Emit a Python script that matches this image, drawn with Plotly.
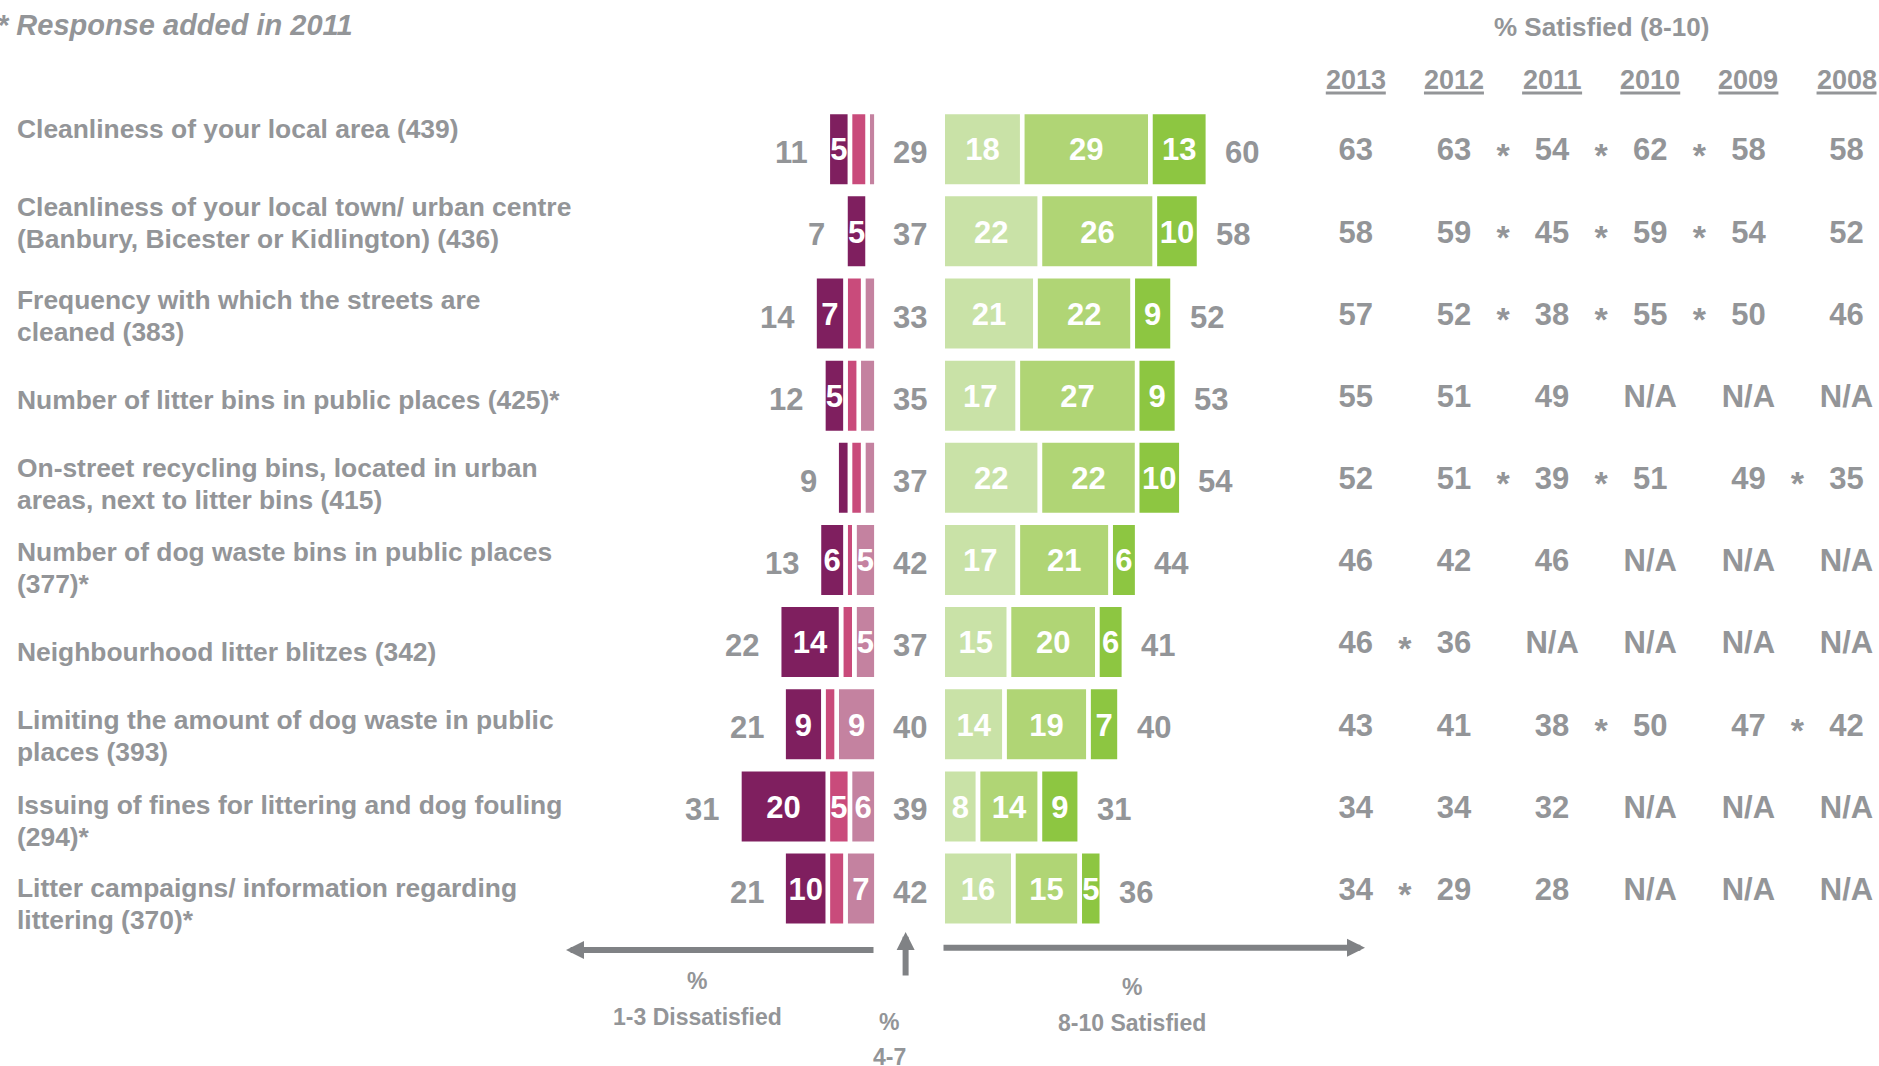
import plotly.graph_objects as go

# ---------------------------------------------------------------- data
questions = [
    "Cleanliness of your local area (439)",
    "Cleanliness of your local town/ urban centre\n(Banbury, Bicester or Kidlington) (436)",
    "Frequency with which the streets are\ncleaned (383)",
    "Number of litter bins in public places (425)*",
    "On-street recycling bins, located in urban\nareas, next to litter bins (415)",
    "Number of dog waste bins in public places\n(377)*",
    "Neighbourhood litter blitzes (342)",
    "Limiting the amount of dog waste in public\nplaces (393)",
    "Issuing of fines for littering and dog fouling\n(294)*",
    "Litter campaigns/ information regarding\nlittering (370)*",
]

# dissatisfied scores (1 = very dissatisfied ... 3)
score_1 = [5, 5, 7, 5, 3, 6, 14, 9, 20, 10]
score_2 = [4, 1, 4, 3, 3, 2, 3, 3, 5, 4]
score_3 = [2, 1, 3, 4, 3, 5, 5, 9, 6, 7]
# neutral 4-7
score_4_7 = [29, 37, 33, 35, 37, 42, 37, 40, 39, 42]
# satisfied scores 8 ... 10
score_8 = [18, 22, 21, 17, 22, 17, 15, 14, 8, 16]
score_9 = [29, 26, 22, 27, 22, 21, 20, 19, 14, 15]
score_10 = [13, 10, 9, 9, 10, 6, 6, 7, 9, 5]

years = ["2013", "2012", "2011", "2010", "2009", "2008"]
satisfied_by_year = [
    [63, 63, 54, 62, 58, 58],
    [58, 59, 45, 59, 54, 52],
    [57, 52, 38, 55, 50, 46],
    [55, 51, 49, None, None, None],
    [52, 51, 39, 51, 49, 35],
    [46, 42, 46, None, None, None],
    [46, 36, None, None, None, None],
    [43, 41, 38, 50, 47, 42],
    [34, 34, 32, None, None, None],
    [34, 29, 28, None, None, None],
]
# significant change markers: (row, gap between years[g] and years[g+1])
sig_changes = [
    (0, 1), (0, 2), (0, 3),
    (1, 1), (1, 2), (1, 3),
    (2, 1), (2, 2), (2, 3),
    (4, 1), (4, 2), (4, 4),
    (6, 0),
    (7, 2), (7, 4),
    (9, 0),
]

# ---------------------------------------------------------------- layout constants
W, H = 1879, 1066
FONT = "Liberation Sans, Arial, Helvetica, sans-serif"
GREY = "#939598"
ARROW_GREY = "#808285"
C1, C2, C3 = "#7f1f5f", "#c94b7b", "#c482a0"
C8, C9, C10 = "#c9e2a7", "#b0d575", "#8dc641"

PX_PER_PCT = 4.42        # horizontal scale of the bars
DISS_ZERO_PX = 876.4     # where dissatisfied bars start (growing left)
GAP_PCT = 15             # space kept for the 4-7 column
ROW0_PX = 149.2
ROW_STEP_PX = 82.15
BAR_PX = 74.6
COL0_PX = 1355.8
COL_STEP_PX = 98.15
LABEL_FIRST_LINE_PX = [129, 207, 300, 400, 468, 552, 652, 720, 805, 888]
LABEL_LINE_STEP_PX = 31.7
NUM_DROP_PX = 3.5        # digits sit slightly below the bar centre line
STAR_DROP_PX = 9         # asterisks drawn level with the digits

n = len(questions)
rows = list(range(n))


def px_x(p):
    return p / W


def px_y(p):
    return 1 - p / H


fig = go.Figure()

# ---------------------------------------------------------------- bars
def add_segments(values, bases, color):
    fig.add_trace(go.Bar(
        orientation="h", y=rows, x=values, base=bases,
        width=BAR_PX / ROW_STEP_PX,
        marker=dict(color=color, line=dict(color="white", width=4.6)),
        hoverinfo="skip",
    ))


diss_total = [a + b + c for a, b, c in zip(score_1, score_2, score_3)]
sat_total = [a + b + c for a, b, c in zip(score_8, score_9, score_10)]

b3 = [-v for v in score_3]
b2 = [-(v3 + v2) for v3, v2 in zip(score_3, score_2)]
b1 = [-t for t in diss_total]
b8 = [GAP_PCT] * n
b9 = [GAP_PCT + v for v in score_8]
b10 = [GAP_PCT + a + b for a, b in zip(score_8, score_9)]

segments = [
    (score_3, b3, C3), (score_2, b2, C2), (score_1, b1, C1),
    (score_8, b8, C8), (score_9, b9, C9), (score_10, b10, C10),
]
for vals, bases, col in segments:
    add_segments(vals, bases, col)

num_drop = NUM_DROP_PX / ROW_STEP_PX

# value labels inside segments (only where there is room)
lx, ly, lt = [], [], []
for vals, bases, _ in segments:
    for i in rows:
        if vals[i] >= 5:
            lx.append(bases[i] + vals[i] / 2)
            ly.append(i + num_drop)
            lt.append(str(vals[i]))
fig.add_trace(go.Scatter(
    x=lx, y=ly, text=lt, mode="text", hoverinfo="skip",
    textfont=dict(family=FONT, size=31, color="white", weight="bold"),
))

# ---------------------------------------------------------------- trend table
tx, ty, tt = [], [], []
for i, vals in enumerate(satisfied_by_year):
    for j, v in enumerate(vals):
        tx.append(j)
        ty.append(i + num_drop)
        tt.append("N/A" if v is None else str(v))
fig.add_trace(go.Scatter(
    x=tx, y=ty, text=tt, mode="text", xaxis="x2", hoverinfo="skip",
    textfont=dict(family=FONT, size=31, color=GREY, weight="bold"),
))
fig.add_trace(go.Scatter(
    x=[g + 0.5 for _, g in sig_changes],
    y=[r + STAR_DROP_PX / ROW_STEP_PX for r, _ in sig_changes],
    text=["*"] * len(sig_changes), mode="text", xaxis="x2", hoverinfo="skip",
    textfont=dict(family=FONT, size=34, color=GREY, weight="bold"),
))

annotations = []
shapes = []


def note(text, x, y, size, xanchor="center", xref="paper", yref="paper",
         italic=False, xshift=0, yshift=0, color=GREY):
    annotations.append(dict(
        text=text, x=x, y=y, xref=xref, yref=yref, showarrow=False,
        xanchor=xanchor, yanchor="middle", xshift=xshift, yshift=yshift,
        font=dict(family=FONT, size=size, color=color, weight="bold",
                  style="italic" if italic else "normal"),
    ))


# question labels
for i, q in enumerate(questions):
    for k, line in enumerate(q.split("\n")):
        note(line, px_x(15), px_y(LABEL_FIRST_LINE_PX[i] + k * LABEL_LINE_STEP_PX),
             26.4, xanchor="left")

# totals either side and the neutral share in between
for i in rows:
    note(str(diss_total[i]), -diss_total[i], i, 31, xanchor="right",
         xref="x", yref="y", xshift=-18, yshift=-NUM_DROP_PX)
    note(str(sat_total[i]), GAP_PCT + sat_total[i], i, 31, xanchor="left",
         xref="x", yref="y", xshift=15, yshift=-NUM_DROP_PX)
    note(str(score_4_7[i]), GAP_PCT / 2, i, 31, xref="x", yref="y",
         yshift=-NUM_DROP_PX)

# table headings
note("% Satisfied (8-10)", px_x(1601), px_y(27), 26)
for j, y in enumerate(years):
    note(y, j, px_y(80), 27, xref="x2")
    shapes.append(dict(
        type="line", xref="x2", yref="paper",
        x0=j - 30 / COL_STEP_PX, x1=j + 30 / COL_STEP_PX,
        y0=px_y(93), y1=px_y(93), line=dict(color=GREY, width=3),
    ))

note("* Response added in 2011", px_x(-5), px_y(25), 29, xanchor="left", italic=True)

# scale captions under the bars
note("%", px_x(697), px_y(981), 23)
note("1-3 Dissatisfied", px_x(697), px_y(1017), 23)
note("%", px_x(889), px_y(1022), 23)
note("4-7", px_x(889), px_y(1057), 23)
note("%", px_x(1132), px_y(987), 23)
note("8-10 Satisfied", px_x(1132), px_y(1023), 23)


def arrow(head, tail):
    annotations.append(dict(
        text="", x=px_x(head[0]), y=px_y(head[1]), xref="paper", yref="paper",
        ax=tail[0] - head[0], ay=tail[1] - head[1], axref="pixel", ayref="pixel",
        showarrow=True, arrowhead=2, arrowsize=0.6, arrowwidth=6,
        arrowcolor=ARROW_GREY, standoff=0, startstandoff=0,
    ))


arrow((566, 950), (875, 950))
arrow((905.6, 932), (905.6, 977))
arrow((1365, 947.7), (942, 947.7))

fig.update_layout(
    width=W, height=H,
    margin=dict(l=0, r=0, t=0, b=0),
    paper_bgcolor="white", plot_bgcolor="white",
    showlegend=False, barmode="overlay",
    xaxis=dict(range=[-DISS_ZERO_PX / PX_PER_PCT, (W - DISS_ZERO_PX) / PX_PER_PCT],
               visible=False, fixedrange=True),
    xaxis2=dict(range=[-COL0_PX / COL_STEP_PX, (W - COL0_PX) / COL_STEP_PX],
                overlaying="x", visible=False, fixedrange=True),
    yaxis=dict(range=[(H - ROW0_PX) / ROW_STEP_PX, -ROW0_PX / ROW_STEP_PX],
               visible=False, fixedrange=True),
    annotations=annotations,
    shapes=shapes,
)

fig.write_html("out.html", config={"displayModeBar": False})
